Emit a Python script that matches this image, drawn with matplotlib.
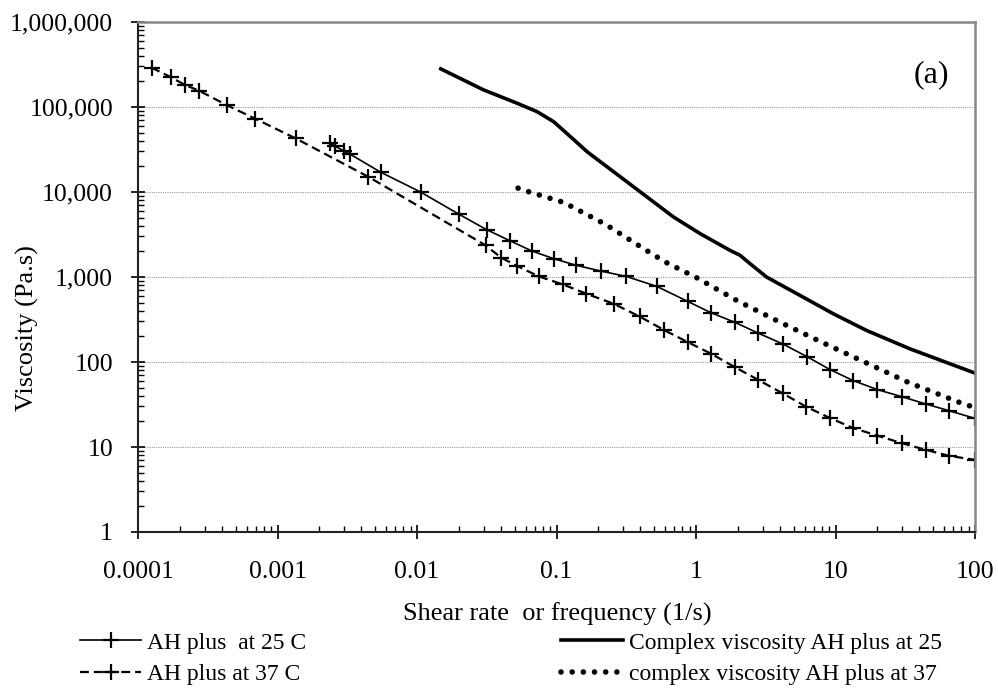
import numpy as np
import matplotlib
matplotlib.use('Agg')
import matplotlib.pyplot as plt
from matplotlib.ticker import FixedLocator, FuncFormatter, NullFormatter

plt.rcParams['font.family'] = ['Liberation Serif', 'DejaVu Serif']

# AH plus at 25 C (steady shear)
x_25 = [0.00238, 0.00258, 0.0030, 0.00331, 0.00549, 0.0106, 0.020, 0.0315, 0.0468, 0.0668,
        0.0955, 0.139, 0.208, 0.316, 0.525, 0.875, 1.285, 1.89, 2.80, 4.19, 6.22, 9.14,
        13.4, 20.0, 29.8, 44.3, 65.3, 100]
y_25 = [37300, 34700, 30300, 27900, 17100, 10000, 5470, 3610, 2650, 2020,
        1643, 1370, 1174, 1016, 774, 515, 379, 294, 218, 163, 116, 81.4,
        60.4, 47.3, 39.1, 32.1, 26.7, 21.7]

# AH plus at 37 C (steady shear)
x_37 = [0.000125, 0.000172, 0.000217, 0.000275, 0.000434, 0.000692, 0.00135, 0.00448,
        0.031, 0.0401, 0.0523, 0.0747, 0.111, 0.164, 0.257, 0.394, 0.586, 0.875, 1.285,
        1.91, 2.80, 4.19, 6.15, 9.14, 13.4, 20.0, 29.8, 44.3, 65.3, 100]
y_37 = [291000, 224000, 182000, 155000, 105000, 72800, 42700, 15100,
        2360, 1690, 1345, 1016, 818, 635, 484, 343, 239, 171, 125,
        86.6, 61.5, 42.7, 29.8, 21.9, 16.7, 13.6, 11.1, 9.27, 7.87, 7.06]

# complex viscosity (oscillatory)
cx_25 = [0.0148, 0.030, 0.052, 0.0726, 0.0955, 0.126, 0.166, 0.357, 0.69, 1.07, 1.75, 2.07,
         2.44, 3.21, 5.57, 9.65, 16.7, 34.1, 100]
cy_25 = [281000, 159000, 111000, 88100, 67100, 44700, 29700, 11500, 5080, 3240, 2060, 1800,
         1435, 997, 607, 369, 235, 143, 74]

cx_37 = [0.053, 0.064, 0.113, 0.224, 0.432, 0.603, 1.01, 2.0, 4.0, 7.96, 16.3, 33.2, 82.6, 100]
cy_37 = [11100, 10000, 7520, 4170, 2100, 1499, 981, 520, 294, 171, 99.2, 57.6, 32.1, 29.2]

x_ticks = [0.0001, 0.001, 0.01, 0.1, 1, 10, 100]
y_ticks = [1, 10, 100, 1000, 10000, 100000, 1000000]

fig = plt.figure(figsize=(9.98, 6.91), dpi=100)
ax = fig.add_axes([138/998, 1-532/691, (975-138)/998, (532-22)/691])

ax.plot(x_25, y_25, color='black', lw=1.2, marker='+', ms=11, mew=1.6,
        label='AH plus  at 25 C')
ax.plot(x_37, y_37, color='black', lw=1.6, ls=(0, (4, 2.2)), marker='+', ms=11, mew=1.6,
        label='AH plus at 37 C')
ax.plot(cx_25, cy_25, color='black', lw=2.6, solid_joinstyle='round',
        label='Complex viscosity AH plus at 25')
ax.plot(cx_37, cy_37, color='black', lw=4, ls=(0, (0.01, 2.0)), dash_capstyle='round',
        label='complex viscosity AH plus at 37')

ax.set_xscale('log')
ax.set_yscale('log')
ax.set_xlim(0.0001, 100)
ax.set_ylim(1, 1000000)

minor_x = [m * 10.0**e for e in range(-4, 2) for m in range(2, 10)]
minor_y = [m * 10.0**e for e in range(0, 6) for m in range(2, 10)]
ax.xaxis.set_major_locator(FixedLocator(x_ticks))
ax.yaxis.set_major_locator(FixedLocator(y_ticks))
ax.xaxis.set_minor_locator(FixedLocator(minor_x))
ax.yaxis.set_minor_locator(FixedLocator(minor_y))
ax.xaxis.set_minor_formatter(NullFormatter())
ax.yaxis.set_minor_formatter(NullFormatter())
ax.xaxis.set_major_formatter(FuncFormatter(lambda v, p: f'{v:g}' if v < 1 else f'{v:,.0f}'))
ax.yaxis.set_major_formatter(FuncFormatter(lambda v, p: f'{v:,.0f}'))

ax.tick_params(which='major', direction='inout', length=10, width=1.2, labelsize=18.5)
ax.tick_params(axis='y', which='major', pad=13)
ax.tick_params(axis='x', which='major', pad=16)
ax.tick_params(which='minor', direction='in', length=4, width=1.0)
ax.tick_params(top=False, right=False)

ax.grid(axis='y', which='major', color='#999999', lw=0.8, ls=(0, (1, 1)))
ax.set_axisbelow(True)

for s in ['left', 'bottom']:
    ax.spines[s].set_color('#222222')
    ax.spines[s].set_linewidth(1.5)
for s in ['top', 'right']:
    ax.spines[s].set_color('#888888')
    ax.spines[s].set_linewidth(1.8)

fig.text(931/998, 1-75/691, '(a)', fontsize=23, ha='center', va='center')

fig.text(27/998, 1-328/691, 'Viscosity (Pa.s)', rotation=90, fontsize=19,
         ha='center', va='center')
fig.text(557/998, 1-614/691, 'Shear rate  or frequency (1/s)', fontsize=19,
         ha='center', va='center')

fig.legend(loc='upper left', bbox_to_anchor=(80/998, 1-632/691), ncol=2, frameon=False,
           fontsize=17, handlelength=2.6, handletextpad=0.25, columnspacing=10.8,
           labelspacing=0.42, borderpad=0, borderaxespad=0)

fig.savefig('out.png', dpi=100)
